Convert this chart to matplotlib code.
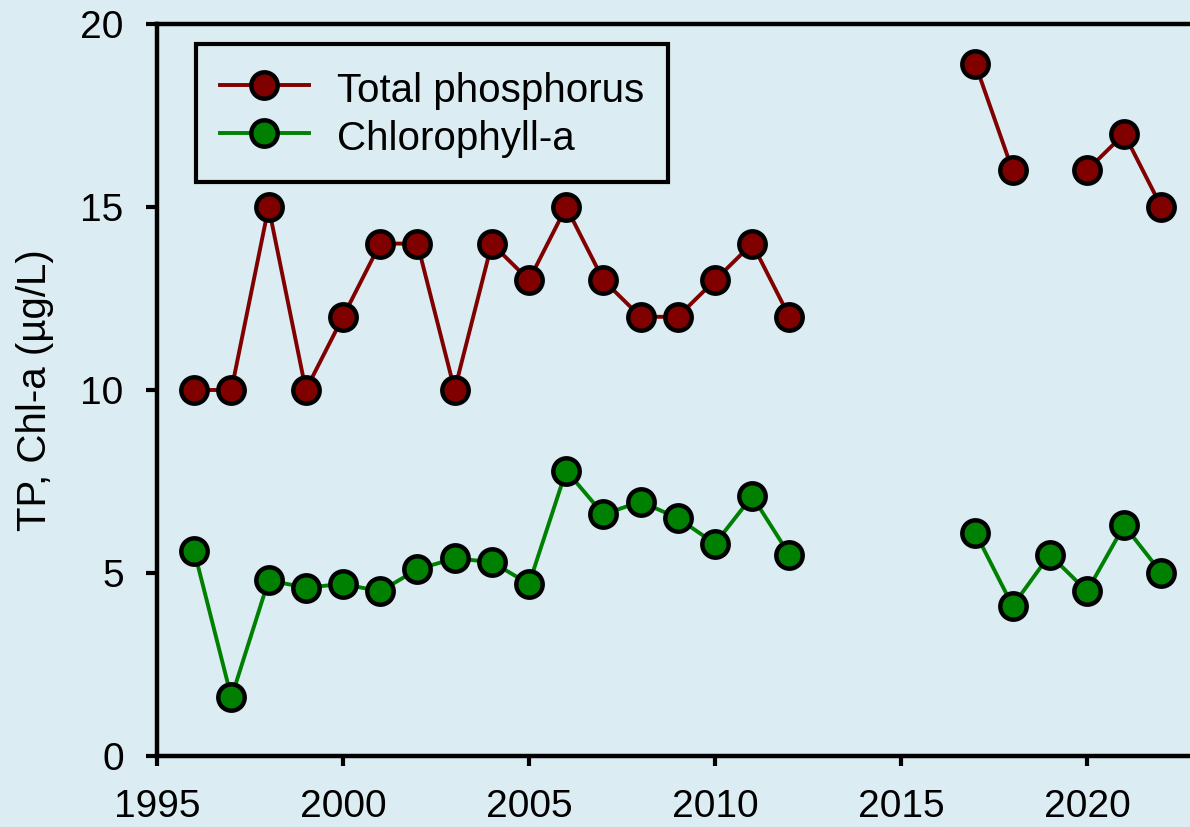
import numpy as np
import matplotlib
matplotlib.use('Agg')
import matplotlib.pyplot as plt

plt.rcParams['font.family'] = ['Liberation Sans', 'DejaVu Sans']

# datos (NaN = año sin dato)
years = list(range(1996, 2023))
tp = [10, 10, 15, 10, 12, 14, 14, 10, 14, 13, 15, 13, 12, 12, 13, 14, 12,
      np.nan, np.nan, np.nan, np.nan, 18.9, 16, np.nan, 16, 17, 15]
chla = [5.6, 1.6, 4.8, 4.6, 4.7, 4.5, 5.1, 5.4, 5.3, 4.7, 7.8, 6.6, 6.95, 6.5, 5.8, 7.1, 5.5,
        np.nan, np.nan, np.nan, np.nan, 6.1, 4.1, 5.5, 4.5, 6.3, 5.0]
x_ticks = [1995, 2000, 2005, 2010, 2015, 2020]
y_ticks = [0, 5, 10, 15, 20]

bg = '#dbedf3'
W, H = 1190, 827
fig = plt.figure(figsize=(W / 100, H / 100), dpi=100, facecolor=bg)
ax = fig.add_axes([157 / W, (H - 756) / H, 1116 / W, 732 / H], facecolor=bg)

estilo = dict(linewidth=2.8, marker='o', markersize=19, markeredgewidth=3.2,
              markeredgecolor='black')
ax.plot(years, tp, color='#800000', markerfacecolor='#800000', label='Total phosphorus', **estilo)
ax.plot(years, chla, color='#008000', markerfacecolor='#008000', label='Chlorophyll-a', **estilo)

ax.set_xlim(1995, 2025)
ax.set_ylim(0, 20)
ax.set_xticks(x_ticks)
ax.set_yticks(y_ticks)
ax.tick_params(direction='out', width=3, labelsize=28)
ax.tick_params(axis='y', length=8, pad=16)
ax.tick_params(axis='x', length=7, pad=17)
for s in ax.spines.values():
    s.set_linewidth(3.2)
ax.set_ylabel('TP, Chl-a (µg/L)', fontsize=29, labelpad=19)

leg = ax.legend(loc='upper left', bbox_to_anchor=(196 / W, 1 - 44 / H),
                bbox_transform=fig.transFigure, fontsize=29, fancybox=False,
                framealpha=1, facecolor=bg, edgecolor='black', handlelength=2.2,
                handleheight=1.2, borderpad=0.6, labelspacing=0.14,
                handletextpad=0.7, borderaxespad=0)
leg.get_frame().set_linewidth(3)
leg.set_zorder(5)

fig.savefig('out.png', dpi=100, facecolor=bg)
